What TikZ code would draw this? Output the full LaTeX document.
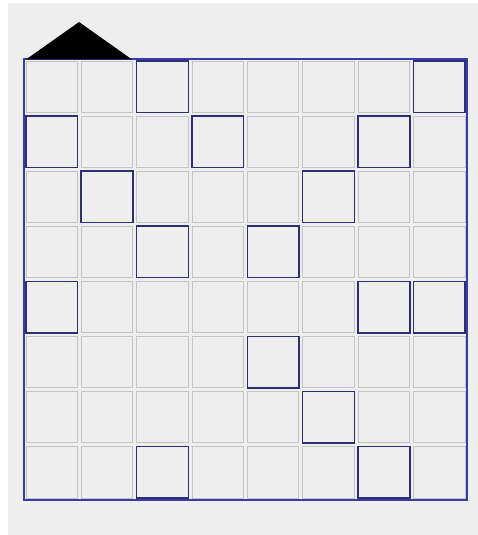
\documentclass[tikz,border=0pt]{standalone}
\definecolor{bgc}{HTML}{EEEEEE}
\definecolor{gridc}{HTML}{C4C4C4}
\definecolor{hlc}{HTML}{2E2E72}
\definecolor{outc}{HTML}{3A3AA8}
\tikzset{
  cellbox/.style={draw=gridc, line width=0.9pt, minimum width=51.4pt, minimum height=51.2pt, inner sep=0pt, outer sep=0pt},
  hlbox/.style={draw=hlc, line width=1.5pt, minimum width=51.8pt, minimum height=51.6pt, inner sep=0pt, outer sep=0pt},
  outerbox/.style={draw=outc, line width=1.1pt},
  roof/.style={fill=black}
}
\begin{document}
\begin{tikzpicture}[x=1pt,y=-1pt]
\useasboundingbox (0,0) rectangle (478,535);
\fill[white] (0,0) rectangle (478,535);
\fill[bgc] (8,3) rectangle (478,535);
\foreach \r in {0,...,7}{
  \foreach \c in {0,...,7}{
    \node[cellbox] (c-\r-\c) at ({24+55.375*(\c+0.5)},{59+55.125*(\r+0.5)}) {};
  }
}
\foreach \r/\c in {0/2,0/7,1/0,1/3,1/6,2/1,2/5,3/2,3/4,4/0,4/6,4/7,5/4,6/5,7/2,7/6}{
  \node[hlbox] (h-\r-\c) at (c-\r-\c.center) {};
}
\coordinate (tl) at (24,59);
\coordinate (br) at (467,500);
\draw[outerbox] (tl) rectangle (br);
\coordinate (rl) at (26,59.5);
\coordinate (ra) at (79,22);
\coordinate (rr) at (132,59.5);
\fill[roof] (rl) -- (ra) -- (rr) -- cycle;
\end{tikzpicture}
\end{document}
